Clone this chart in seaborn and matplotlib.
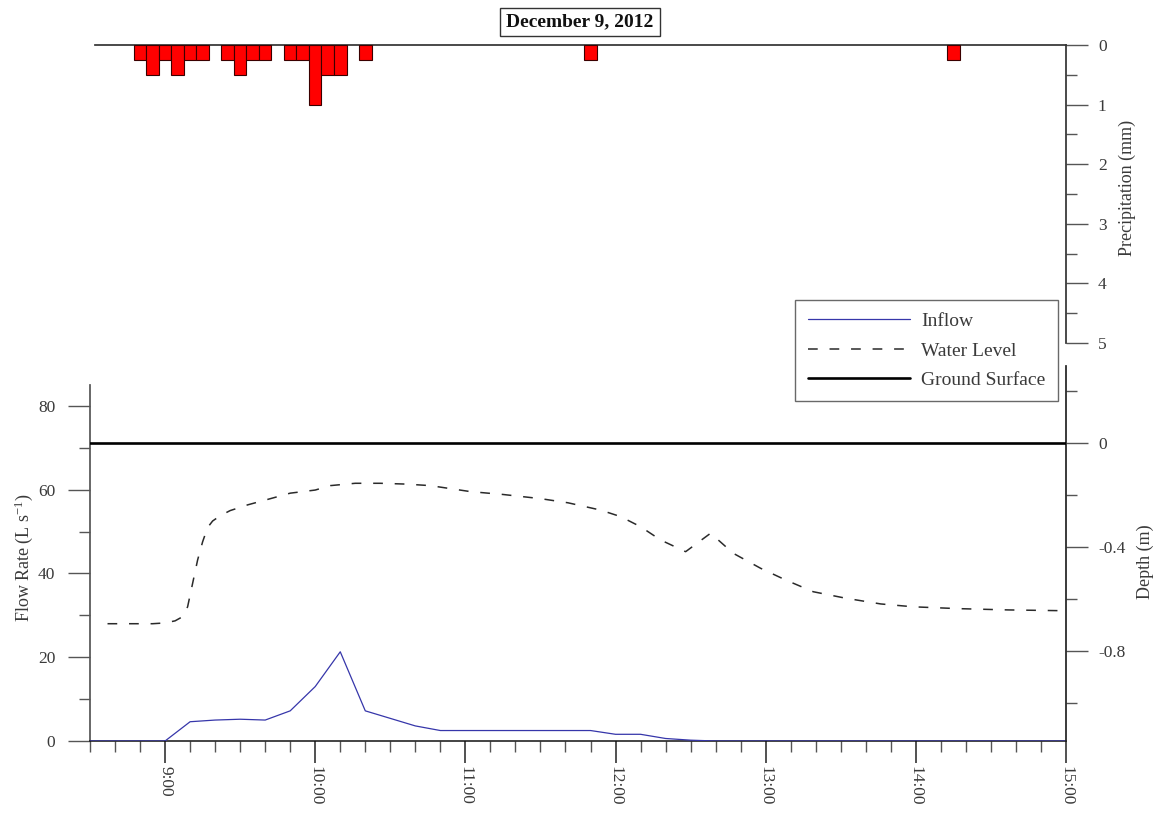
import numpy as np
import matplotlib
matplotlib.use("Agg")
import matplotlib.pyplot as plt
import seaborn as sns
from matplotlib.lines import Line2D
from matplotlib.ticker import FixedLocator, FuncFormatter

# ---- data -------------------------------------------------------------
precip_times = ["8:50", "8:55", "9:00", "9:05", "9:10", "9:15", "9:25", "9:30",
                "9:35", "9:40", "9:50", "9:55", "10:00", "10:05", "10:10",
                "10:20", "11:50", "14:15"]
precip_mm = [0.25, 0.5, 0.25, 0.5, 0.25, 0.25, 0.25, 0.5, 0.25, 0.25, 0.25,
             0.25, 1.0, 0.5, 0.5, 0.25, 0.25, 0.25]

inflow_times = ["8:30", "8:40", "8:50", "9:00", "9:10", "9:20", "9:30", "9:40",
                "9:50", "10:00", "10:10", "10:20", "10:30", "10:40", "10:50",
                "11:00", "11:20", "11:40", "11:50", "12:00", "12:10", "12:20",
                "12:30", "12:40", "13:00", "14:00", "15:00"]
inflow_lps = [0.0, 0.0, 0.0, 0.0, 4.6, 5.0, 5.2, 5.0, 7.2, 13.0, 21.3, 7.2,
              5.4, 3.6, 2.5, 2.5, 2.5, 2.5, 2.5, 1.6, 1.6, 0.6, 0.2, 0.0,
              0.0, 0.0, 0.0]

level_times = ["8:37", "8:45", "8:55", "9:00", "9:04", "9:07", "9:09", "9:11",
               "9:13", "9:15", "9:17", "9:19", "9:22", "9:26", "9:33", "9:41",
               "9:50", "10:00", "10:06", "10:16", "10:26", "10:36", "10:46",
               "11:02", "11:15", "11:30", "11:41", "11:54", "12:02", "12:10",
               "12:18", "12:28", "12:38", "12:47", "12:58", "13:08", "13:19",
               "13:32", "13:46", "13:59", "14:17", "14:37", "14:59"]
level_m = [-0.695, -0.695, -0.695, -0.692, -0.684, -0.668, -0.63, -0.54,
           -0.45, -0.38, -0.325, -0.300, -0.280, -0.260, -0.238, -0.217,
           -0.193, -0.181, -0.164, -0.155, -0.155, -0.158, -0.164, -0.187,
           -0.198, -0.214, -0.230, -0.258, -0.283, -0.322, -0.373, -0.418,
           -0.347, -0.424, -0.482, -0.527, -0.572, -0.597, -0.619, -0.630,
           -0.637, -0.642, -0.645]

ground_depth = 0.0

x_start, x_end = "8:30", "15:00"
hour_labels = ["9:00", "10:00", "11:00", "12:00", "13:00", "14:00", "15:00"]


def to_hours(stamps):
    return np.array([int(h) + int(m) / 60.0
                     for h, m in (s.split(":") for s in stamps)])


# ---- style ------------------------------------------------------------
sns.set_theme(style="ticks")
plt.rcParams["font.family"] = ["Liberation Serif", "DejaVu Serif"]
plt.rcParams["mathtext.fontset"] = "custom"
plt.rcParams["mathtext.rm"] = "Liberation Serif"
plt.rcParams["mathtext.it"] = "Liberation Serif:italic"
plt.rcParams["lines.scale_dashes"] = False
plt.rcParams["axes.unicode_minus"] = False

TXT = "#3a3a3a"
SPINE = "#555555"
FS_TICK = 12.5
FS_LABEL = 13
FS_LEG = 14

W, H = 1165, 816
fig = plt.figure(figsize=(W / 100, H / 100), dpi=100)


def frac(left, top, right, bottom):
    return [left / W, 1 - bottom / H, (right - left) / W, (bottom - top) / H]


ax_f = fig.add_axes(frac(90, 385, 1066, 741))
ax_d = fig.add_axes(frac(90, 366, 1066, 741), sharex=ax_f)
ax_p = fig.add_axes(frac(90, 45, 1066, 343), sharex=ax_f)
ax_d.set_facecolor("none")
ax_p.set_facecolor("none")

xmin, xmax = to_hours([x_start, x_end])

# ---- precipitation (top) ---------------------------------------------
ax_p.bar(to_hours(precip_times), precip_mm, width=5 / 60, align="center",
         color="#ff0000", edgecolor="#3a0000", linewidth=0.8, zorder=3)
ax_p.set_ylim(5, 0)
for s in ("left", "bottom"):
    ax_p.spines[s].set_visible(False)
ax_p.spines["top"].set_color("#333333")
ax_p.spines["top"].set_bounds(8.535, xmax)
ax_p.spines["right"].set_color("#333333")
ax_p.yaxis.tick_right()
ax_p.yaxis.set_major_locator(FixedLocator(np.arange(0, 5.01, 1)))
ax_p.yaxis.set_minor_locator(FixedLocator(np.arange(0.5, 5, 1)))
ax_p.yaxis.set_major_formatter(FuncFormatter(lambda v, p: f"{v:.0f}"))
ax_p.tick_params(axis="y", which="major", length=16, width=1, color=SPINE,
                 labelsize=FS_TICK, labelcolor=TXT, pad=7)
ax_p.tick_params(axis="y", which="minor", length=8, width=1, color=SPINE)
ax_p.tick_params(axis="x", which="both", bottom=False, labelbottom=False)

# ---- inflow (bottom, left axis) -------------------------------------
sns.lineplot(x=to_hours(inflow_times), y=inflow_lps, ax=ax_f,
             color="#3636aa", linewidth=0.9, zorder=3)
ax_f.set_xlim(xmin, xmax)
ax_f.set_ylim(0, 85)
ax_f.spines["top"].set_visible(False)
ax_f.spines["right"].set_visible(False)
ax_f.spines["left"].set_color(SPINE)
ax_f.spines["bottom"].set_color("#111111")
ax_f.spines["bottom"].set_linewidth(1.1)
ax_f.yaxis.set_major_locator(FixedLocator(np.arange(0, 81, 20)))
ax_f.yaxis.set_minor_locator(FixedLocator(np.arange(10, 80, 20)))
ax_f.tick_params(axis="y", which="major", length=16, width=1, color=SPINE,
                 labelsize=FS_TICK, labelcolor=TXT, pad=9)
ax_f.tick_params(axis="y", which="minor", length=8, width=1, color=SPINE)
ax_f.xaxis.set_major_locator(FixedLocator(to_hours(hour_labels)))
ax_f.xaxis.set_minor_locator(FixedLocator(np.arange(xmin, xmax + 1e-6, 1 / 6)))
ax_f.xaxis.set_major_formatter(
    FuncFormatter(lambda v, p: f"{int(round(v))}:00"))
ax_f.tick_params(axis="x", which="major", length=16, width=1.1,
                 color="#222222", labelsize=FS_TICK, labelcolor=TXT, pad=2,
                 labelrotation=-90)
ax_f.tick_params(axis="x", which="minor", length=8, width=1, color=SPINE)
ax_f.set_xlabel("")
ax_f.set_ylabel("")

# ---- water level & ground surface (bottom, right axis) --------------
sns.lineplot(x=to_hours(level_times), y=level_m, ax=ax_d,
             color="#2a2a2a", linewidth=1.1, zorder=3)
ax_d.lines[-1].set_dashes((7, 8.5))
ax_d.axhline(ground_depth, color="black", linewidth=1.9, zorder=4)
ax_d.set_ylim(-1.146, 0.296)
for s in ("left", "top", "bottom"):
    ax_d.spines[s].set_visible(False)
ax_d.spines["right"].set_color("#222222")
ax_d.yaxis.tick_right()
ax_d.yaxis.set_major_locator(FixedLocator([0.0, -0.4, -0.8]))
ax_d.yaxis.set_minor_locator(FixedLocator([0.2, -0.2, -0.6, -1.0]))
ax_d.yaxis.set_major_formatter(
    FuncFormatter(lambda v, p: "0" if abs(v) < 1e-9 else f"{v:.1f}"))
ax_d.tick_params(axis="y", which="major", length=16, width=1, color=SPINE,
                 labelsize=FS_TICK, labelcolor=TXT, pad=7)
ax_d.tick_params(axis="y", which="minor", length=8, width=1, color=SPINE)
ax_d.tick_params(axis="x", which="both", bottom=False, labelbottom=False)
ax_d.set_xlabel("")
ax_d.set_ylabel("")

# ---- axis titles -----------------------------------------------------
fig.text(24 / W, 1 - 558 / H, r"Flow Rate (L s$^{-1}$)", rotation=90,
         ha="center", va="center", fontsize=FS_LABEL, color=TXT)
fig.text(1127 / W, 1 - 188 / H, "Precipitation (mm)", rotation=90,
         ha="center", va="center", fontsize=FS_LABEL, color=TXT)
fig.text(1145 / W, 1 - 562 / H, "Depth (m)", rotation=90,
         ha="center", va="center", fontsize=FS_LABEL, color=TXT)

fig.text(580 / W, 1 - 22 / H, "December 9, 2012", ha="center", va="center",
         fontsize=14, fontweight="bold", color="#111111",
         bbox=dict(boxstyle="square,pad=0.3", facecolor="white",
                   edgecolor="#333333", linewidth=1))

# ---- legend ----------------------------------------------------------
handles = [
    Line2D([], [], color="#3636aa", linewidth=0.9),
    Line2D([], [], color="#2a2a2a", linewidth=1.1, dashes=(7, 8.5)),
    Line2D([], [], color="black", linewidth=1.9),
]
leg = fig.legend(handles, ["Inflow", "Water Level", "Ground Surface"],
                 loc="upper left", bbox_to_anchor=(795 / W, 1 - 300 / H),
                 fontsize=FS_LEG, frameon=True, fancybox=False,
                 handlelength=5.25, handletextpad=0.6, labelspacing=0.6,
                 borderpad=0.65, borderaxespad=0)
leg.get_frame().set_edgecolor("#444444")
leg.get_frame().set_linewidth(1)
for t in leg.get_texts():
    t.set_color(TXT)

fig.savefig("out.png", dpi=100)
